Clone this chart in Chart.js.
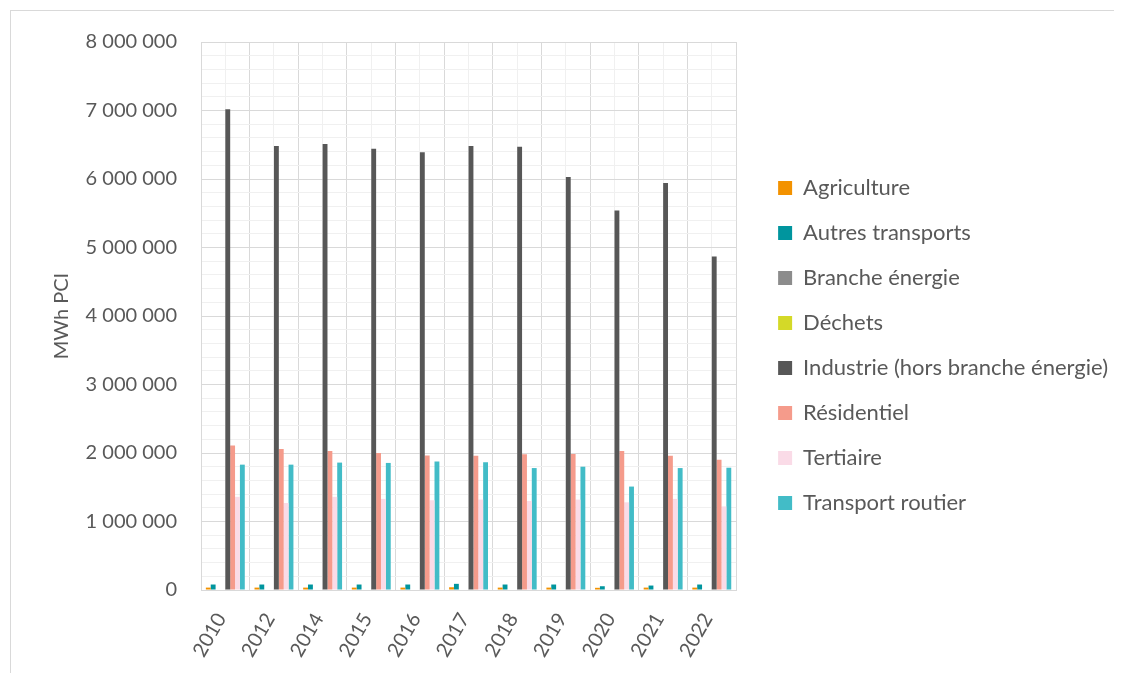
<!DOCTYPE html>
<html>
<head>
<meta charset="utf-8">
<script src="https://cdn.jsdelivr.net/npm/chart.js@4.4.0/dist/chart.umd.min.js"></script>
<style>
	html, body { margin: 0; padding: 0; background: #ffffff; }
	#frame {
		position: absolute; left: 10px; top: 10px; width: 1103px; height: 670px;
		border-left: 1px solid #d9d9d9; border-top: 1px solid #d9d9d9;
	}
	#wrap { position: absolute; left: 0; top: 0; width: 1123px; height: 673px; }
</style>
</head>
<body>
<div id="frame"></div>
<div id="wrap"><canvas id="EnergyChart" width="1123" height="673"></canvas></div>
<script>

// DATA (MWh PCI)
const years = ["2010", "2012", "2014", "2015", "2016", "2017", "2018", "2019", "2020", "2021", "2022"];

const agriculture      = [35000, 35000, 35000, 35000, 35000, 40000, 35000, 35000, 32000, 35000, 35000];
const autresTransports = [80000, 80000, 80000, 80000, 80000, 90000, 80000, 80000, 55000, 65000, 80000];
const brancheEnergie   = [0, 0, 0, 0, 0, 0, 0, 0, 0, 0, 0];
const dechets          = [0, 0, 0, 0, 0, 0, 0, 0, 0, 0, 0];
const industrie        = [7020000, 6480000, 6510000, 6440000, 6390000, 6480000, 6470000, 6030000, 5540000, 5940000, 4870000];
const residentiel      = [2110000, 2060000, 2030000, 2000000, 1965000, 1960000, 1980000, 1985000, 2030000, 1960000, 1900000];
const tertiaire        = [1360000, 1270000, 1360000, 1330000, 1310000, 1320000, 1300000, 1320000, 1280000, 1330000, 1220000];
const transportRoutier = [1830000, 1830000, 1860000, 1855000, 1875000, 1865000, 1780000, 1800000, 1510000, 1780000, 1785000];

const yTicksMax = 8000000;
const yMinorStep = 200000;
const yMajorStep = 1000000;

const textColor = "#595959";
const fontFamily = "Lato, 'Open Sans', sans-serif";

function spaced(v) {
	return String(v).replace(/\B(?=(\d{3})+(?!\d))/g, " ");
}

function series(label, values, color) {
	return {
		label: label,
		data: values,
		backgroundColor: color,
		borderWidth: 0,
		categoryPercentage: 0.8,
		barPercentage: 1.0,
	};
}

new Chart(document.getElementById("EnergyChart"), {
	type: "bar",
	data: {
		labels: years,
		datasets: [
			series("Agriculture", agriculture, "#f39200"),
			series("Autres transports", autresTransports, "#00959e"),
			series("Branche énergie", brancheEnergie, "#8c8c8c"),
			series("Déchets", dechets, "#d4d928"),
			series("Industrie (hors branche énergie)", industrie, "#575757"),
			series("Résidentiel", residentiel, "#f59b8b"),
			series("Tertiaire", tertiaire, "#fadbe7"),
			series("Transport routier", transportRoutier, "#42bcc7"),
		],
	},
	options: {
		responsive: false,
		animation: false,
		devicePixelRatio: 1,
		layout: {
			padding: { left: 50, top: 42, bottom: 3, right: 5 },
		},
		plugins: {
			legend: {
				position: "right",
				align: "start",
				maxWidth: 500,
				// empty title only used as a top spacer for the legend column
				title: { display: true, text: "", font: { size: 10 }, padding: { top: 100, bottom: 0 } },
				labels: {
					boxWidth: 14,
					boxHeight: 14,
					padding: 23,
					color: textColor,
					font: { family: fontFamily, size: 22 },
				},
			},
			tooltip: { enabled: false },
		},
		scales: {
			x: {
				type: "category",
				offset: true,
				grid: { offset: true, color: "#d9d9d9", drawTicks: false },
				border: { color: "#d9d9d9" },
				ticks: {
					color: textColor,
					font: { family: fontFamily, size: 20 },
					minRotation: 60,
					maxRotation: 60,
					padding: 19,
					labelOffset: -4,
					autoSkip: false,
				},
				afterFit: (scale) => { scale.height = 80; },
			},
			xMinor: {
				type: "category",
				position: "bottom",
				offset: true,
				grid: { offset: false, color: "#f0f0f0", drawTicks: false },
				border: { display: false },
				ticks: { display: false },
			},
			y: {
				min: 0,
				max: yTicksMax,
				grid: {
					drawTicks: false,
					color: (c) => (c.tick && c.tick.value % yMajorStep === 0 ? "#d9d9d9" : "#f0f0f0"),
				},
				border: { color: "#d9d9d9" },
				ticks: {
					stepSize: yMinorStep,
					autoSkip: false,
					padding: 24,
					color: textColor,
					font: { family: fontFamily, size: 20 },
					callback: (v) => (v % yMajorStep === 0 ? spaced(v) : ""),
				},
				title: {
					display: true,
					text: "MWh PCI",
					color: textColor,
					font: { family: fontFamily, size: 20 },
					padding: { top: 0, bottom: 9 },
				},
				afterFit: (scale) => { scale.width = 151; },
			},
			gap: {
				position: "right",
				grid: { display: false },
				border: { display: false },
				ticks: { display: false },
				afterFit: (scale) => { scale.width = 19; },
			},
		},
	},
});
</script>
</body>
</html>
